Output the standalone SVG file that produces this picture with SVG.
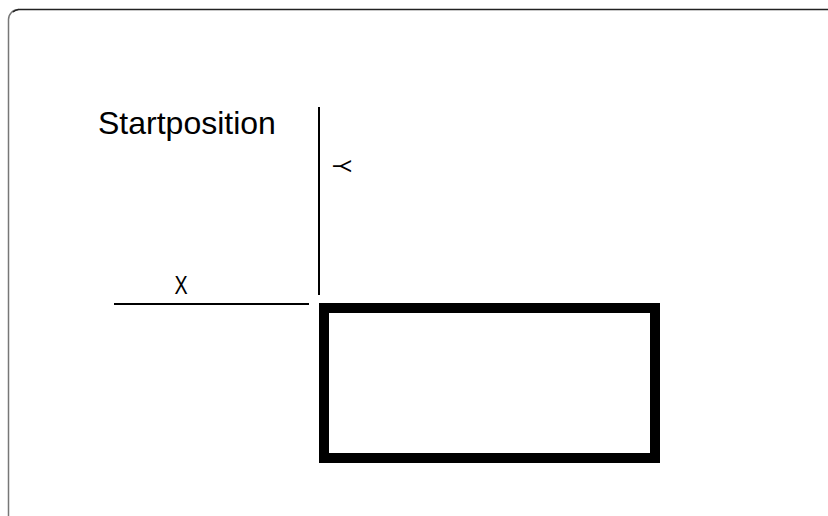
<svg xmlns="http://www.w3.org/2000/svg" width="828" height="516" viewBox="0 0 828 516">
<style>
text{font-family:"Liberation Sans",Arial,sans-serif;fill:#000}
.ax{stroke:#000;stroke-width:2;fill:none}
.lbl{font-size:26px;text-anchor:middle}
</style>
<rect width="828" height="516" fill="#fff"/>
<g id="frame" fill="none">
<path d="M8.5,520 V19.5 A10,10 0 0 1 18.5,9.5" stroke="#777" stroke-width="1.5"/>
<path d="M13,12 A10,10 0 0 1 18.5,9.5 H830" stroke="#222" stroke-width="1.5"/>
</g>
<g id="label-start"><text x="98" y="134" font-size="32">Startposition</text></g>
<g id="connectors">
<line class="ax" x1="319" y1="107" x2="319" y2="295"/>
<line class="ax" x1="114" y1="304" x2="309" y2="304"/>
</g>
<g id="label-x"><text class="lbl" transform="translate(181,294) scale(0.76,1)">X</text></g>
<g id="label-y"><text class="lbl" transform="translate(333,166) rotate(90) scale(0.76,1)">Y</text></g>
<g id="box"><rect x="324" y="308" width="331" height="150" fill="none" stroke="#000" stroke-width="10"/></g>
</svg>
